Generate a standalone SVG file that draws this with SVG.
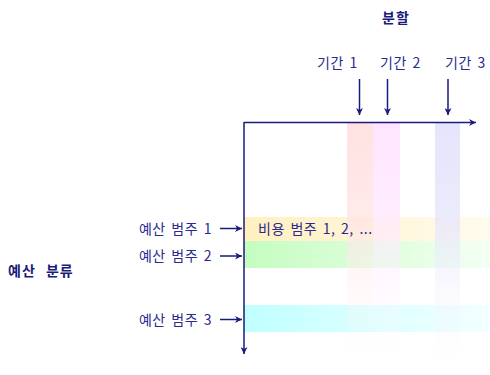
<svg xmlns="http://www.w3.org/2000/svg" width="490" height="375" viewBox="0 0 490 375">
<style>
text{font-family:"Noto Sans CJK KR","Liberation Sans",sans-serif;font-size:14px;fill:#2a2a8e;letter-spacing:0.5px;word-spacing:2px}
.b{font-weight:bold;fill:#1a1a7a;letter-spacing:1px;word-spacing:6px}
.ln{stroke:#1a1a7a;stroke-width:1.5;fill:none}
</style>
<defs>
<marker id="ah" viewBox="0 0 10 10" refX="10" refY="5" markerWidth="7" markerHeight="7" markerUnits="userSpaceOnUse" orient="auto"><path d="M0,0 L10,5 L0,10 L3,5 Z" fill="#1a1a7a"/></marker>
<linearGradient id="gr" x1="0" y1="0" x2="0" y2="1"><stop offset="0" stop-color="#ffd8d8"/><stop offset="0.4" stop-color="#ffe4e4"/><stop offset="1" stop-color="#fff" stop-opacity="0"/></linearGradient>
<linearGradient id="gm" x1="0" y1="0" x2="0" y2="1"><stop offset="0" stop-color="#ffdcff"/><stop offset="0.4" stop-color="#ffe8ff"/><stop offset="1" stop-color="#fff" stop-opacity="0"/></linearGradient>
<linearGradient id="gb" x1="0" y1="0" x2="0" y2="1"><stop offset="0" stop-color="#dcdcfc"/><stop offset="0.4" stop-color="#e6e6fc"/><stop offset="1" stop-color="#fff" stop-opacity="0"/></linearGradient>
<linearGradient id="gy" x1="0" y1="0" x2="1" y2="0"><stop offset="0" stop-color="#fff0c0"/><stop offset="1" stop-color="#fffbee"/></linearGradient>
<linearGradient id="gg" x1="0" y1="0" x2="1" y2="0"><stop offset="0" stop-color="#c4fcc0"/><stop offset="1" stop-color="#f4fff4"/></linearGradient>
<linearGradient id="gc" x1="0" y1="0" x2="1" y2="0"><stop offset="0" stop-color="#c0ffff"/><stop offset="1" stop-color="#f4ffff"/></linearGradient>
</defs>
<g id="bands-h">
<rect x="244" y="217" width="246" height="24" fill="url(#gy)"/>
<rect x="244" y="241" width="246" height="27" fill="url(#gg)"/>
<rect x="244" y="305" width="246" height="27" fill="url(#gc)"/>
</g>
<g id="bands-v" opacity="0.75">
<rect x="347" y="123" width="26" height="243" fill="url(#gr)"/>
<rect x="373" y="123" width="27" height="243" fill="url(#gm)"/>
<rect x="435" y="123" width="25" height="252" fill="url(#gb)"/>
</g>
<g id="connectors">
<line class="ln" x1="244" y1="122.5" x2="476" y2="122.5" marker-end="url(#ah)"/>
<line class="ln" x1="244" y1="122" x2="244" y2="354" marker-end="url(#ah)"/>
<line class="ln" x1="359.5" y1="79" x2="359.5" y2="115" marker-end="url(#ah)"/>
<line class="ln" x1="387.5" y1="79" x2="387.5" y2="115" marker-end="url(#ah)"/>
<line class="ln" x1="448" y1="79" x2="448" y2="115" marker-end="url(#ah)"/>
<line class="ln" x1="220" y1="228.5" x2="242" y2="228.5" marker-end="url(#ah)"/>
<line class="ln" x1="220" y1="256" x2="242" y2="256" marker-end="url(#ah)"/>
<line class="ln" x1="220" y1="319.5" x2="242" y2="319.5" marker-end="url(#ah)"/>
</g>
<g id="title-split"><text class="b" x="382" y="23">분할</text></g>
<g id="period1"><text x="317" y="68">기간 1</text></g>
<g id="period2"><text x="380" y="68">기간 2</text></g>
<g id="period3"><text x="445" y="68">기간 3</text></g>
<g id="title-budget"><text class="b" x="8" y="276">예산 분류</text></g>
<g id="cat1"><text x="212" y="234" text-anchor="end">예산 범주 1</text></g>
<g id="cat2"><text x="212" y="261" text-anchor="end">예산 범주 2</text></g>
<g id="cat3"><text x="212" y="325" text-anchor="end">예산 범주 3</text></g>
<g id="cost"><text x="258" y="234">비용 범주 1, 2, ...</text></g>
</svg>
